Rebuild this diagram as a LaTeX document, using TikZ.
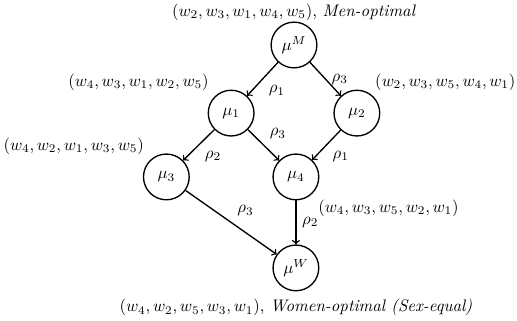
\documentclass[tikz,border=0pt]{standalone}
\usepackage{amsmath,amsfonts,amssymb}
\usepackage{tikz}
\usetikzlibrary{arrows,positioning}

\begin{document}
\begin{tikzpicture}[
    x=0.021cm, y=0.021cm,
    state/.style={draw, circle, thick, minimum size=0.96cm, inner sep=0pt},
    arrow/.style={->, thick},
    on grid,
    node distance=1.43cm and 1.32cm
]
\useasboundingbox (0,0) rectangle (517,320);

\node[state, label={[label distance=-3pt]above:$(w_2, w_3, w_1, w_4, w_5)$, \textit{Men-optimal}}]
  (muM) at (294,275) {$\mu^M$};
\node[state, below left=of muM, label={above left:$(w_4, w_3, w_1, w_2, w_5)$}]
  (mu1) {$\mu_1$};
\node[state, below right=of muM, label={[xshift=-2.5pt]above right:$(w_2, w_3, w_5, w_4, w_1)$}]
  (mu2) {$\mu_2$};
\node[state, below left=1.34cm and 1.36cm of mu1,
      label={above left:$(w_4, w_2, w_1, w_3, w_5)$}] (mu3) {$\mu_3$};
\node[state, below right=1.34cm and 1.36cm of mu1,
      label={below right:$(w_4, w_3, w_5, w_2, w_1)$}] (mu4) {$\mu_4$};
\node[state, below=1.91cm of mu4,
      label={[label distance=1pt]below:$(w_4, w_2, w_5, w_3, w_1)$, \textit{Women-optimal (Sex-equal)}}]
  (muW) {$\mu^W$};

\draw[arrow] (muM) -- node[below right] {$\rho_1$} (mu1);
\draw[arrow] (muM) -- node[right] {$\rho_3$} (mu2);
\draw[arrow] (mu1) -- node[below right] {$\rho_2$} (mu3);
\draw[arrow] (mu1) -- node[above right] {$\rho_3$} (mu4);
\draw[arrow] (mu2) -- node[below right] {$\rho_1$} (mu4);
\draw[arrow] (mu3) -- node[above right] {$\rho_3$} (muW);
\draw[arrow] (mu4) -- node[right] {$\rho_2$} (muW);
\end{tikzpicture}
\end{document}
